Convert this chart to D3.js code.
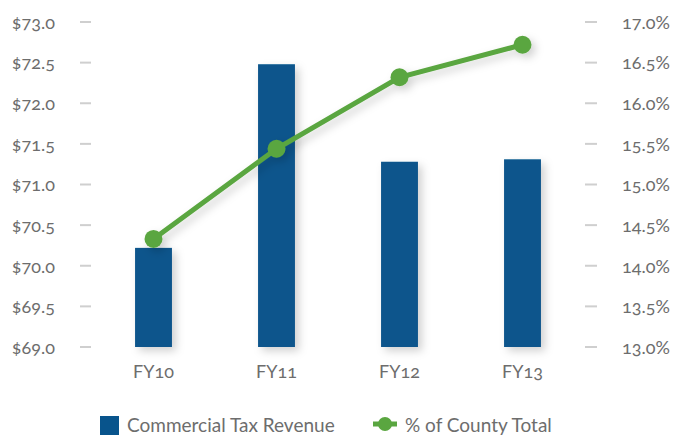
<!DOCTYPE html>
<html>
<head>
<meta charset="utf-8">
<script src="https://cdn.jsdelivr.net/npm/d3@7"></script>
<style>
  body { margin: 0; background: #fff; }
  text { font-family: Lato, "Open Sans", sans-serif; fill: #6d6d6d; font-variant-numeric: oldstyle-nums; }
</style>
</head>
<body>
<svg id="chart"></svg>
<script>
const years = ["FY10", "FY11", "FY12", "FY13"];
const revenue = [70.22, 72.48, 71.28, 71.31];      // $ millions
const countyShare = [14.33, 15.44, 16.32, 16.72];  // percent
const leftTicks = [69.0, 69.5, 70.0, 70.5, 71.0, 71.5, 72.0, 72.5, 73.0];
const rightTicks = [13.0, 13.5, 14.0, 14.5, 15.0, 15.5, 16.0, 16.5, 17.0];

const width = 676, height = 436;
const svg = d3.select("#chart").attr("width", width).attr("height", height);

// drop shadow for bars and line
const defs = svg.append("defs");
const f = defs.append("filter").attr("id", "shadow")
  .attr("x", "-30%").attr("y", "-30%").attr("width", "180%").attr("height", "160%");
f.append("feDropShadow").attr("dx", 4).attr("dy", 4).attr("stdDeviation", 4)
  .attr("flood-color", "#000").attr("flood-opacity", 0.18);

const x = d3.scaleBand().domain(years).range([92, 584]).paddingInner(0.7).paddingOuter(0.35);
const yL = d3.scaleLinear().domain([69, 73]).range([347, 22]);
const yR = d3.scaleLinear().domain([13, 17]).range([347, 22]);

// left axis
const leftAxis = d3.axisLeft(yL).tickValues(leftTicks).tickSize(0).tickPadding(0)
  .tickFormat(d => "$" + d3.format(".1f")(d));
const gl = svg.append("g").attr("transform", "translate(55,0)").call(leftAxis);
gl.select(".domain").remove();
gl.selectAll("text").attr("font-size", 18).style("font-family", null).attr("dy", "0.35em");
svg.append("g").selectAll("line").data(leftTicks).join("line")
  .attr("x1", 80).attr("x2", 91).attr("y1", d => yL(d)).attr("y2", d => yL(d))
  .attr("stroke", "#cfcfcf").attr("stroke-width", 2);

// right axis
const rightAxis = d3.axisRight(yR).tickValues(rightTicks).tickSize(0).tickPadding(0)
  .tickFormat(d => d3.format(".1f")(d) + "%");
const gr = svg.append("g").attr("transform", "translate(622,0)").call(rightAxis);
gr.select(".domain").remove();
gr.selectAll("text").attr("font-size", 18).style("font-family", null).attr("dy", "0.35em");
svg.append("g").selectAll("line").data(rightTicks).join("line")
  .attr("x1", 585).attr("x2", 597).attr("y1", d => yR(d)).attr("y2", d => yR(d))
  .attr("stroke", "#cfcfcf").attr("stroke-width", 2);

// x axis labels
const bottomAxis = d3.axisBottom(x).tickSize(0).tickPadding(0);
const gb = svg.append("g").attr("transform", "translate(0,365)").call(bottomAxis);
gb.select(".domain").remove();
gb.selectAll("text").attr("font-size", 18).style("font-family", null).attr("dy", "0.7em");

// bars
svg.append("g").selectAll("rect").data(revenue).join("rect")
  .attr("x", (d, i) => x(years[i]))
  .attr("width", x.bandwidth())
  .attr("y", d => yL(d))
  .attr("height", d => yL(69) - yL(d))
  .attr("fill", "#08548c")
  .attr("filter", "url(#shadow)");

// line
const cx = i => x(years[i]) + x.bandwidth() / 2;
const line = d3.line().x((d, i) => cx(i)).y(d => yR(d));
const lg = svg.append("g").attr("filter", "url(#shadow)");
lg.append("path").datum(countyShare).attr("d", line)
  .attr("fill", "none").attr("stroke", "#5aa640").attr("stroke-width", 5);
lg.selectAll("circle").data(countyShare).join("circle")
  .attr("cx", (d, i) => cx(i)).attr("cy", d => yR(d)).attr("r", 9)
  .attr("fill", "#5aa640");

// legend
const leg = svg.append("g");
leg.append("rect").attr("x", 100).attr("y", 416).attr("width", 19).attr("height", 19).attr("fill", "#08548c");
leg.append("text").attr("x", 127).attr("y", 432).attr("font-size", 19).text("Commercial Tax Revenue");
leg.append("line").attr("x1", 373).attr("x2", 397).attr("y1", 424).attr("y2", 424)
  .attr("stroke", "#5aa640").attr("stroke-width", 5);
leg.append("circle").attr("cx", 385).attr("cy", 424).attr("r", 7).attr("fill", "#5aa640");
leg.append("text").attr("x", 405).attr("y", 432).attr("font-size", 19).text("% of County Total");
</script>
</body>
</html>
